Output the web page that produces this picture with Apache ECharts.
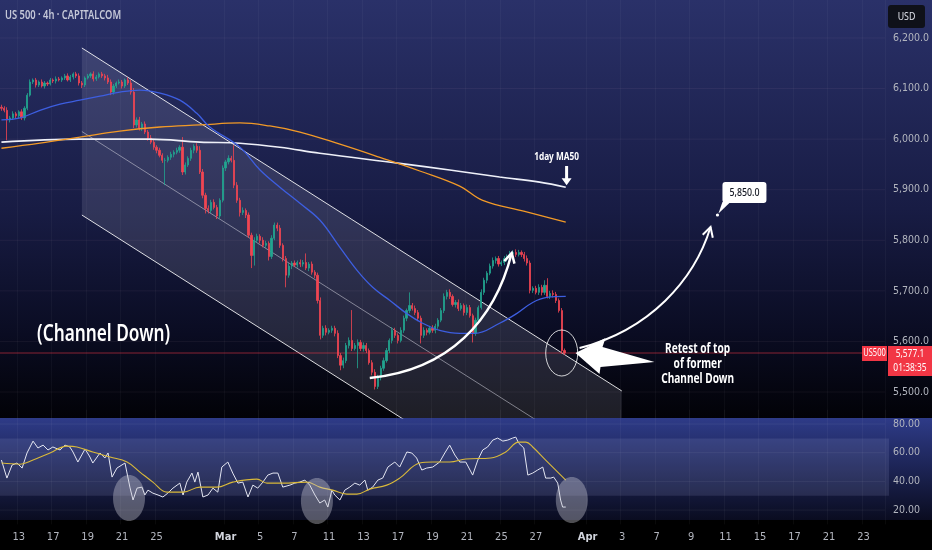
<!DOCTYPE html>
<html><head><meta charset="utf-8">
<script src="https://cdn.jsdelivr.net/npm/echarts@6/dist/echarts.min.js"></script>
<style>html,body{margin:0;padding:0;background:#000;}#c{width:932px;height:550px;}</style>
</head><body><div id="c"></div>
<script>
// ---------- DATA ----------
const tradingDays = ['12','13','14','17','18','19','20','21','24','25','26','27','28','Mar','4','5','6','7','10','11','12','13','14','17','18','19','20','21','24','25','26','27','28','31','Apr','2','3','4','7','8','9','10','11','14','15','16','17','18','21','22','23','24'];
const labelDayIdx = [1,3,5,7,9,13,15,17,19,21,23,25,27,29,31,34,36,38,40,42,44,46,48,50];
const barsPerDay = 6;
const totalBars = 308;
const firstOpen = 6063;
const closes = [
6061,6057,6038,6042,6050,6046,6054,6042,6061,6087,6113,6117,
6107,6113,6105,6111,6109,6117,6115,6119,6117,6121,6125,6117,
6123,6129,6125,6111,6107,6121,6125,6129,6119,6123,6129,6125,
6121,6113,6093,6105,6111,6113,6105,6117,6111,6093,6028,6038,
6022,6030,6014,6002,5994,5984,5978,5968,5958,5958,5964,5970,
5974,5978,5984,5935,5949,5962,5978,5986,5978,5935,5889,5863,
5859,5875,5865,5848,5879,5943,5955,5962,5958,5909,5879,5855,
5859,5850,5810,5770,5800,5808,5800,5790,5794,5768,5804,5830,
5824,5790,5764,5731,5749,5755,5751,5756,5753,5756,5745,5753,
5737,5731,5681,5612,5626,5618,5622,5626,5616,5572,5553,5562,
5592,5602,5586,5592,5598,5586,5592,5582,5558,5539,5511,5529,
5547,5562,5582,5602,5622,5612,5602,5622,5646,5661,5671,5665,
5657,5646,5612,5622,5618,5626,5622,5630,5642,5661,5689,5697,
5689,5673,5677,5665,5671,5657,5667,5651,5616,5642,5667,5697,
5721,5735,5749,5760,5764,5753,5756,5764,5768,5774,5776,5772,
5776,5772,5764,5755,5701,5705,5697,5707,5697,5711,5689,5695,
5693,5681,5661,5582,5577.1];
const upWick = [
5,4,6,4,5,4,3,5,4,4,5,3, 4,3,5,4,3,4,3,5,4,3,4,5, 4,3,4,5,4,3,4,3,5,4,3,4,
4,6,5,4,3,5,4,3,5,6,8,5, 6,4,5,4,6,5,4,5,4,5,4,5, 4,5,4,20,5,4,5,4,6,8,6,5,
6,5,6,5,4,5,4,6,5,30,6,5, 6,4,5,5,6,5,4,6,5,4,6,5, 5,6,4,5,6,4,5,4,6,5,18,4,
5,4,5,6,5,6,4,5,5,6,5,6, 5,6,60,5,6,5,6,5,4,5,6,5, 5,6,5,4,6,5,4,6,5,4,26,5,
6,5,5,6,4,5,6,5,4,5,6,5, 6,4,5,6,5,4,6,5,4,5,4,6, 5,4,5,6,4,5,4,5,4,5,4,6,
5,4,5,6,5,4,5,6,5,10,14,5, 6,5,4,5,4];
const dnWick = [
5,4,40,5,4,6,5,4,5,4,3,4, 5,4,3,5,4,3,4,5,3,4,4,3, 4,5,4,5,6,4,3,4,5,4,3,4,
5,4,6,5,4,3,5,4,4,5,6,5, 5,6,4,5,4,5,6,4,5,49,4,5, 6,4,5,6,5,4,5,6,5,4,6,10,
6,5,4,6,5,4,6,5,4,6,5,8, 5,6,5,25,20,5,6,4,5,8,5,4, 6,5,6,24,5,6,4,5,6,5,4,6,
5,6,6,8,5,6,4,5,6,5,10,6, 5,6,5,4,45,5,6,5,4,6,6,5, 6,5,4,5,6,5,6,4,5,6,5,4,
5,6,16,5,6,4,5,6,5,4,5,6, 5,4,6,5,4,6,5,4,18,5,6,4, 5,6,4,5,6,5,4,5,6,5,4,5,
4,5,6,5,6,5,4,5,6,5,4,5, 6,5,4,6,4];
// moving averages: [bar index, price]
const ma4h50 = [[0,6038],[6.5,6042],[13.4,6057],[20.4,6069],[27.3,6077],[34.3,6085],[41.2,6093],[48.2,6097],[55.2,6091],[62.1,6077],[68,6051],[72.5,6024],[83,5984],[90,5939],[96.9,5905],[103.9,5873],[110.8,5840],[117.8,5786],[123.7,5741],[129.2,5707],[135.2,5681],[141.1,5655],[146.6,5636],[152.5,5622],[159.5,5616],[164.7,5616],[173.4,5636],[179.3,5655],[184.9,5677],[189.8,5687],[196.4,5689]];
const ma4h200 = [[0,5982],[13.4,5992],[27.3,6004],[41.2,6016],[55.2,6024],[69.1,6028],[83,6032],[93.4,6026],[103.9,6014],[117.8,5990],[131.7,5964],[145.6,5937],[159.5,5907],[167.5,5879],[182.1,5857],[196.4,5836]];
const ma1d50 = [[0,5994],[27.3,6000],[51.7,6000],[69.1,5994],[83,5992],[96.9,5984],[110.8,5972],[138.6,5952],[156,5939],[173.4,5925],[187.3,5915],[196.4,5905]];
const rsi = [[0,54.9],[1.9,42.3],[3.7,51.4],[5.4,52.8],[7.2,49.3],[8.9,59.8],[11,68.1],[12.7,63.3],[14.5,65.3],[16.2,61.9],[17.9,64],[20.4,61.9],[22.1,65.3],[23.8,64],[24.9,60.5],[26.6,53.5],[29.1,62.6],[30.8,57],[31.8,52.8],[34.3,59.8],[36,56.3],[37.1,59.8],[38.5,43],[40.2,49.3],[43,52.8],[44.7,36],[45.8,27],[47.2,35.3],[48.9,36],[49.9,30.5],[51,33.9],[52.7,31.8],[54.5,30.5],[56.2,29.1],[57.9,31.8],[59.7,35.3],[62.1,38.8],[63.2,30.5],[64.5,39.5],[66.3,45.8],[67.3,39.5],[68.4,46.5],[70.1,29.1],[71.9,30.5],[73.6,35.3],[75.3,32.5],[76.7,50],[78.8,53.5],[80.5,45.8],[82.3,38.8],[84,39.5],[85.8,29.1],[87.5,37.4],[89.2,35.3],[91,39.5],[92.7,44.4],[94.5,45.8],[96.2,45.8],[97.9,36],[100.4,37.4],[102.1,38.8],[103.8,39.5],[105.6,40.9],[107.3,37.4],[109.1,30.5],[110.8,24.9],[112.5,27],[113.6,22.1],[115,33.9],[116,30.5],[117.8,27],[119.5,33.9],[121.2,36],[123,38.8],[124.7,37.4],[126.5,40.9],[127.5,33.9],[129.2,36],[131,40.9],[132.7,42.3],[134.5,50],[136.9,53.5],[138.6,50],[141.1,60.5],[142.8,59.8],[144.5,56.3],[146.3,47.9],[148,49.3],[150.1,50],[152.5,53.5],[154.3,59.8],[156,65.3],[157.8,58.4],[159.5,53.5],[161.6,53.5],[164,44.4],[165.8,54.9],[167.5,61.9],[169.2,64],[171,68.8],[172.7,70.2],[174.5,68.1],[176.2,68.8],[177.9,70.2],[179,70.9],[180,66.7],[181.8,63.3],[183.2,44.4],[184.9,45.8],[186.6,47.9],[188.4,50],[189.4,42.3],[191.2,42.3],[192.2,43],[193.6,38.8],[194.6,27],[195.3,22.1],[196.4,22.1]];
const rsiMa = [[0,52.8],[6.5,52],[11,54.9],[16.9,59.8],[22.8,64.6],[26.3,64],[31.8,60.5],[37.8,57],[43.7,53.5],[48.2,46.5],[52.7,39.5],[57.6,32.5],[63.2,32.5],[69.1,36],[75,36],[80.5,39.5],[88.9,41.6],[92.4,38.8],[97.9,38.8],[106.3,39.5],[110.8,36],[115.3,33.9],[120.2,31.1],[123.7,31.1],[128.2,34.6],[134.1,37.4],[138.6,42.3],[145.6,52.8],[150.1,53.5],[156,53.5],[161.6,55.6],[170.3,56.3],[175.5,60.5],[180,67.4],[182.5,67.4],[184.9,64],[189.4,54.9],[192.9,47.9],[196.4,40.9]];
const priceTicks = [5500,5600,5700,5800,5900,6000,6100,6200];
const rsiTicks = [20,40,60,80];
const channel = {start:28, end:215.9, upper:[6180.2,5502.1], middle:[6015,5337], lower:[5849.9,5171.9]};
const lastPrice = 5577.1;
const target = [249.2, 5850];
const countdown = '01:38:35';

// ---------- BUILD ----------
const cats = Array.from({length:totalBars}, (_, i) => String(i));
const candles = closes.map((c, i) => {
  const o = i === 0 ? firstOpen : closes[i-1];
  return [o, c, Math.min(o,c) - dnWick[i], Math.max(o,c) + upWick[i]];
});
const fmt = v => { const s = v.toFixed(1).split('.'); return s[0].replace(/\B(?=(\d{3})+(?!\d))/g, ',') + '.' + s[1]; };
const axisFont = "'Liberation Sans Narrow','DejaVu Sans Condensed','Roboto Condensed','Noto Sans',sans-serif";
const isLabelBar = idx => idx % barsPerDay === 0 && labelDayIdx.indexOf(idx / barsPerDay) >= 0;
const xEnds = [-0.5, totalBars - 0.5];

const chart = echarts.init(document.getElementById('c'), null, {width:932, height:550});
const valX = (g) => ({type:'value', gridIndex:g, min:-0.5, max:totalBars-0.5, show:false});
const option = {
  animation:false,
  backgroundColor:'#000',
  grid:[{left:0, right:47, top:0, height:418}, {left:0, right:47, top:409.7, height:114.7}],
  xAxis:[
    {type:'category', gridIndex:0, data:cats, boundaryGap:true, axisLine:{show:false}, axisTick:{show:false}, axisLabel:{show:false},
     splitLine:{show:true, interval:(i)=>isLabelBar(i), lineStyle:{color:'rgba(255,255,255,0.035)'}}},
    valX(0),
    {type:'category', gridIndex:1, data:cats, boundaryGap:true, axisLine:{show:false}, axisTick:{show:false},
     splitLine:{show:true, interval:(i)=>isLabelBar(i), lineStyle:{color:'rgba(255,255,255,0.04)'}},
     axisLabel:{interval:(i)=>isLabelBar(i), margin:7, color:'#b2b5be', fontSize:11, fontFamily:axisFont,
       formatter:(v, i)=>{ const d = tradingDays[Math.floor(Number(v)/barsPerDay)]; return (d==='Mar'||d==='Apr') ? '{b|'+d+'}' : d; },
       rich:{b:{fontWeight:'bold', color:'#d1d4dc', fontSize:11, fontFamily:axisFont}}}},
    valX(1)
  ],
  yAxis:[
    {type:'value', gridIndex:0, position:'right', min:5448.6, max:6275.1, axisLine:{show:false}, axisTick:{show:false}, splitLine:{show:false},
     axisLabel:{customValues:priceTicks, margin:8, color:'#b2b5be', fontSize:10.5, fontFamily:axisFont, formatter:v=>fmt(v)}},
    {type:'value', gridIndex:1, position:'right', min:10, max:90, axisLine:{show:false}, axisTick:{show:false}, splitLine:{show:false},
     axisLabel:{customValues:rsiTicks, margin:8, color:'#b2b5be', fontSize:10.5, fontFamily:axisFont, formatter:v=>v.toFixed(2)}}
  ],
  series:[
    // horizontal price grid
    ...priceTicks.map(v => ({type:'line', xAxisIndex:1, yAxisIndex:0, symbol:'none', silent:true, z:0, data:[[xEnds[0],v],[xEnds[1],v]], lineStyle:{color:'rgba(255,210,220,0.06)', width:1}})),
    // RSI grid
    ...rsiTicks.map(v => ({type:'line', xAxisIndex:3, yAxisIndex:1, symbol:'none', silent:true, z:0, data:[[xEnds[0],v],[xEnds[1],v]], lineStyle:{color:'rgba(255,255,255,0.06)', width:1}})),
    {type:'custom', xAxisIndex:1, yAxisIndex:0, clip:true, z:1, silent:true, data:[[channel.start, channel.upper[0]]],
     renderItem:(params, api)=>({type:'polygon', shape:{points:[
        api.coord([channel.start, channel.upper[0]]), api.coord([channel.end, channel.upper[1]]),
        api.coord([channel.end, channel.lower[1]]), api.coord([channel.start, channel.lower[0]])]},
        style:{fill:'rgba(205,208,225,0.14)'}})},
    {type:'line', xAxisIndex:1, yAxisIndex:0, clip:true, symbol:'none', silent:true, z:2, data:[[channel.start,channel.upper[0]],[channel.end,channel.upper[1]]], lineStyle:{color:'rgba(255,255,255,0.85)', width:1}},
    {type:'line', xAxisIndex:1, yAxisIndex:0, clip:true, symbol:'none', silent:true, z:2, data:[[channel.start,channel.middle[0]],[channel.end,channel.middle[1]]], lineStyle:{color:'rgba(210,210,220,0.55)', width:1}},
    {type:'line', xAxisIndex:1, yAxisIndex:0, clip:true, symbol:'none', silent:true, z:2, data:[[channel.start,channel.lower[0]],[channel.end,channel.lower[1]]], lineStyle:{color:'rgba(255,255,255,0.85)', width:1}},
    // last price line
    {type:'line', xAxisIndex:1, yAxisIndex:0, symbol:'none', silent:true, z:2, data:[[xEnds[0],lastPrice],[xEnds[1],lastPrice]], lineStyle:{color:'rgba(242,54,69,0.55)', width:1}},
    {type:'candlestick', xAxisIndex:0, yAxisIndex:0, data:candles, barWidth:1.7, z:3,
     itemStyle:{color:'#22a58f', color0:'#f04552', borderColor:'#22a58f', borderColor0:'#f04552', borderWidth:0.8}},
    {type:'line', id:'ma1d', name:'1D MA50', xAxisIndex:1, yAxisIndex:0, data:ma1d50, smooth:0.4, symbol:'none', z:4, lineStyle:{color:'#eef0f8', width:1.6}},
    {type:'line', name:'MA200', xAxisIndex:1, yAxisIndex:0, data:ma4h200, smooth:0.4, symbol:'none', z:4, lineStyle:{color:'#f29a27', width:1.3}},
    {type:'line', name:'MA50', xAxisIndex:1, yAxisIndex:0, data:ma4h50, smooth:0.4, symbol:'none', z:4, lineStyle:{color:'#3d5ee0', width:1.3}},
    {type:'line', id:'rsi', name:'RSI', xAxisIndex:3, yAxisIndex:1, data:rsi, symbol:'none', z:4, lineStyle:{color:'#e4e6f2', width:1}},
    {type:'line', name:'RSI MA', xAxisIndex:3, yAxisIndex:1, data:rsiMa, smooth:0.4, symbol:'none', z:4, lineStyle:{color:'#d9b93a', width:1.1}}
  ]
};
chart.setOption(option);

// ---------- ANNOTATIONS ----------
const P = (k,p) => chart.convertToPixel({seriesId:'ma1d'}, [k,p]);
const R = (k,v) => chart.convertToPixel({seriesId:'rsi'}, [k,v]);
const txtFont = "'Noto Sans',sans-serif";
function text(x, y, s, o) {
  return {type:'text', x, y, scaleX:o.sx || 0.75, z:60, silent:true,
    style:{text:s, x:0, y:0, fill:o.fill || '#fff', font:o.font, align:o.align || 'left', verticalAlign:'middle',
           textAlign:o.align || 'left', textVerticalAlign:'middle', lineHeight:o.lh}};
}
function arrowHead(E, C, len, ang) {
  const dx = E[0]-C[0], dy = E[1]-C[1], L = Math.hypot(dx,dy), ux = -dx/L, uy = -dy/L;
  const rot = a => [E[0] + len*(ux*Math.cos(a) - uy*Math.sin(a)), E[1] + len*(ux*Math.sin(a) + uy*Math.cos(a))];
  return [rot(ang), E, rot(-ang)];
}
function curve(pts, w) {
  const [S, C1, C2, E] = pts.map(q => P(q[0], q[1]));
  return [
    {type:'bezierCurve', z:55, silent:true, shape:{x1:S[0],y1:S[1],cpx1:C1[0],cpy1:C1[1],cpx2:C2[0],cpy2:C2[1],x2:E[0],y2:E[1]}, style:{stroke:'#fff', lineWidth:w, fill:null}},
    {type:'polyline', z:55, silent:true, shape:{points:arrowHead(E, C2, 11, 0.5)}, style:{stroke:'#fff', lineWidth:w, fill:null}}
  ];
}
const rsi70 = R(0,70)[1], rsi30 = R(0,30)[1];
const tip = P(199.8, lastPrice), circ = P(195, lastPrice), last = P(196, lastPrice);
const tg = P(target[0], target[1]);
const maTop = P(196.7, 5947), maTip = P(196.7, 5909), maLbl = P(193.2, 5964.6);
const retest = P(242.3, 5555.3), chLbl = P(12.4, 5614.6);
const rc = [[44.4,28.4],[109.8,26.3],[198.5,27]].map(q => R(q[0], q[1]));
const W = [[0,0],[30,-15],[27,-6],[79,9],[25,14],[24,21]].map(q => [tip[0]+q[0], tip[1]+q[1]]);

const graphics = [
  // backgrounds
  {type:'rect', z:-10, silent:true, shape:{x:0,y:0,width:932,height:418}, style:{fill:new echarts.graphic.LinearGradient(0,0,0,1,[{offset:0,color:'#2a3169'},{offset:0.5,color:'#181c44'},{offset:0.8,color:'#0a0c22'},{offset:1,color:'#020207'}])}},
  {type:'rect', z:-10, silent:true, shape:{x:0,y:418,width:932,height:102}, style:{fill:new echarts.graphic.LinearGradient(0,0,0,1,[{offset:0,color:'#2e3b88'},{offset:1,color:'#0a0c20'}])}},
  {type:'rect', z:-9, silent:true, shape:{x:0,y:rsi70,width:889,height:rsi30-rsi70}, style:{fill:'rgba(170,180,230,0.14)'}},
  // header
  text(5, 16, 'US 500 · 4h · CAPITALCOM', {font:'600 12px '+txtFont, fill:'#c5c8d8', sx:0.78}),
  {type:'rect', z:60, silent:true, shape:{x:888,y:5,width:37,height:23,r:3}, style:{fill:'#0f1119'}},
  text(906.5, 16.5, 'USD', {font:'11px '+txtFont, fill:'#e0e3eb', align:'center', sx:0.8}),
  // channel label
  text(chLbl[0], chLbl[1], '(Channel Down)', {font:'600 23px '+txtFont, sx:0.75}),
  // MA label + arrow
  text(maLbl[0], maLbl[1], '1day MA50', {font:'bold 11px '+txtFont, align:'center', sx:0.75}),
  {type:'polygon', z:60, silent:true, shape:{points:[[maTop[0]-1.5,maTop[1]],[maTop[0]+1.5,maTop[1]],[maTop[0]+1.5,maTip[1]-7],[maTop[0]+5,maTip[1]-7],[maTip[0],maTip[1]],[maTop[0]-5,maTip[1]-7],[maTop[0]-1.5,maTip[1]-7]]}, style:{fill:'#fff'}},
  // target callout
  {type:'circle', z:60, silent:true, shape:{cx:tg[0], cy:tg[1], r:1.6}, style:{fill:'#fff'}},
  {type:'polygon', z:60, silent:true, shape:{points:[[tg[0]+5,tg[1]-13],[tg[0]+13,tg[1]-13],[tg[0]+1,tg[1]-1.5]]}, style:{fill:'#fff'}},
  {type:'rect', z:60, silent:true, shape:{x:tg[0]+5,y:tg[1]-33,width:44,height:21,r:3}, style:{fill:'#fff'}},
  text(tg[0]+27, tg[1]-22.5, fmt(target[1]), {font:'500 11px '+txtFont, fill:'#131722', align:'center', sx:0.8}),
  // circle on retest
  {type:'ellipse', z:60, silent:true, shape:{cx:circ[0], cy:circ[1], rx:16, ry:23}, style:{fill:null, stroke:'rgba(255,255,255,0.8)', lineWidth:1}},
  // big wedge arrow
  {type:'polygon', z:61, silent:true, shape:{points:W}, style:{fill:'#fff'}},
  text(retest[0], retest[1], 'Retest of top\nof former\nChannel Down', {font:'bold 13.5px '+txtFont, align:'center', sx:0.75, lh:15}),
  // RSI circles
  ...rc.map(c => ({type:'ellipse', z:60, silent:true, shape:{cx:c[0], cy:c[1], rx:16, ry:23}, style:{fill:'rgba(205,205,215,0.38)'}})),
  // price tags
  {type:'rect', z:60, silent:true, shape:{x:862,y:last[1]-7,width:25,height:15}, style:{fill:'#f23645'}},
  text(874.5, last[1]+0.5, 'US500', {font:'10px '+txtFont, align:'center', sx:0.75}),
  {type:'rect', z:60, silent:true, shape:{x:888,y:last[1]-7,width:44,height:30}, style:{fill:'#f23645'}},
  text(910, last[1]+1, fmt(lastPrice), {font:'10.5px '+txtFont, align:'center', sx:0.8}),
  text(910, last[1]+15, countdown, {font:'10.5px '+txtFont, align:'center', sx:0.8})
].concat(
  curve([[128.2,5527.6],[156,5543.4],[171.7,5642.3],[177.6,5774.8]], 2.5),
  curve([[201.2,5586.9],[225.6,5622.5],[241.2,5721.4],[246.8,5826.2]], 2)
);
chart.setOption({graphic:{elements:graphics}});
</script></body></html>
